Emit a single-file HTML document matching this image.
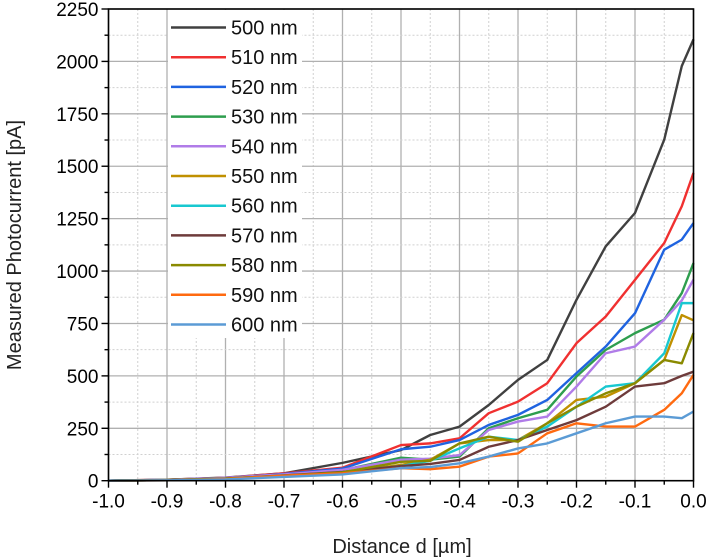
<!DOCTYPE html>
<html><head><meta charset="utf-8"><style>
body{margin:0;background:#fff;}
svg{display:block;font-family:"Liberation Sans",sans-serif;}
</style></head><body>
<svg id="chart" width="708" height="560"></svg>
<script>
const xs=[-1,-0.9,-0.8,-0.7,-0.6,-0.5,-0.45,-0.4,-0.35,-0.3,-0.25,-0.2,-0.15,-0.1,-0.05,-0.02,0];
const s500=[0,5,15,35,85,146,218,258,361,481,576,863,1118,1277,1627,1978,2105];
const s510=[0,5,14,35,62,170,178,202,322,377,465,656,783,958,1134,1309,1468];
const s520=[0,4,13,32,58,150,162,194,266,314,385,513,640,799,1102,1150,1229];
const s530=[0,4,12,28,50,110,100,115,250,298,338,497,624,704,768,895,1038];
const s540=[0,4,14,30,52,100,105,122,242,282,306,449,608,640,768,860,959];
const s550=[0,3,10,25,40,75,100,178,194,194,274,385,401,465,576,790,765];
const s560=[0,3,10,25,40,70,95,154,210,194,258,353,449,465,608,847,847];
const s570=[0,3,10,25,42,70,80,99,162,194,242,289,353,449,465,500,520];
const s580=[0,3,10,24,40,90,95,178,210,186,274,353,417,465,576,560,704];
const s590=[0,2,8,24,35,60,55,67,115,130,226,274,258,258,338,417,505];
const s600=[0,2,6,18,30,60,65,83,115,154,178,226,274,306,306,298,330];
const seriesNames=["500 nm","510 nm","520 nm","530 nm","540 nm","550 nm","560 nm","570 nm","580 nm","590 nm","600 nm"];
const seriesData=[s500,s510,s520,s530,s540,s550,s560,s570,s580,s590,s600];
const colors=["#404040","#f03030","#1f63e0","#2e9e4e","#b07ce8","#c09000","#18c8d0","#6e3b3b","#8a8a00","#ff6a10","#5b9bd5"];
const xTicks=["-1.0","-0.9","-0.8","-0.7","-0.6","-0.5","-0.4","-0.3","-0.2","-0.1","0.0"];
const yTicks=["0","250","500","750","1000","1250","1500","1750","2000","2250"];

const svg=document.getElementById('chart');
const NS="http://www.w3.org/2000/svg";
const L=108.5,R=693.5,T=9,B=480.7;
const X=v=>L+(v+1)*(R-L);
const Y=v=>B-v/2250*(B-T);
function mk(tag,attrs,parent){const e=document.createElementNS(NS,tag);for(const k in attrs)e.setAttribute(k,attrs[k]);(parent||svg).appendChild(e);return e;}
for(let i=0;i<=20;i++){const v=-1+i*0.05;const major=i%2==0;
 const g=mk('line',{x1:X(v),x2:X(v),y1:T,y2:B,stroke:major?'#b0b0b0':'#d0d0d0','stroke-width':major?1.3:1,'stroke-dasharray':major?'':'2,2'});
 
 }
for(let i=0;i<=18;i++){const v=i*125;const major=i%2==0;
 const g=mk('line',{x1:L,x2:R,y1:Y(v),y2:Y(v),stroke:major?'#b0b0b0':'#d0d0d0','stroke-width':major?1.3:1,'stroke-dasharray':major?'':'2,2'});
 
 }
seriesData.forEach((d,si)=>{
 const p=mk('polyline',{points:d.map((v,i)=>X(xs[i])+','+Y(v)).join(' '),fill:'none',stroke:colors[si],'stroke-width':2.4,'stroke-linejoin':'round'});
 
 
});
const fr=mk('rect',{x:L,y:T,width:R-L,height:B-T,fill:'none',stroke:'#000','stroke-width':1.6});


for(let i=0;i<=20;i++){const v=-1+i*0.05;mk('line',{x1:X(v),x2:X(v),y1:B,y2:B+(i%2?4:7),stroke:'#000','stroke-width':1.4});}
for(let i=0;i<=18;i++){const v=i*125;mk('line',{x1:L,x2:L-(i%2?4:7),y1:Y(v),y2:Y(v),stroke:'#000','stroke-width':1.4});}
xTicks.forEach((t,i)=>{const e=mk('text',{x:X(-1+i*0.1),y:B+27,'text-anchor':'middle','font-size':19});e.textContent=t;
 
 });
yTicks.forEach((t,i)=>{const e=mk('text',{x:L-10,y:Y(i*250)+7,'text-anchor':'end','font-size':19});e.textContent=t;
 
 });
const xt=mk('text',{x:402,y:553,'text-anchor':'middle','font-size':20,fill:'#222'});xt.textContent='Distance d [µm]';


const yt=mk('text',{x:0,y:0,'text-anchor':'middle','font-size':20,fill:'#222',transform:'translate(21,245) rotate(-90)'});yt.textContent='Measured Photocurrent [pA]';


const lg=mk('g',{});


mk('rect',{x:168,y:10,width:134,height:328,fill:'#fff',stroke:'none'},lg);
seriesNames.forEach((n,i)=>{const y=27.5+i*29.7;
 const ln=mk('line',{x1:171,x2:226,y1:y,y2:y,stroke:colors[i],'stroke-width':2.5},lg);
 
 
 const t=mk('text',{x:231,y:y+7,'font-size':20,fill:'#111'},lg);t.textContent=n;
 
 });
</script>
</body></html>
